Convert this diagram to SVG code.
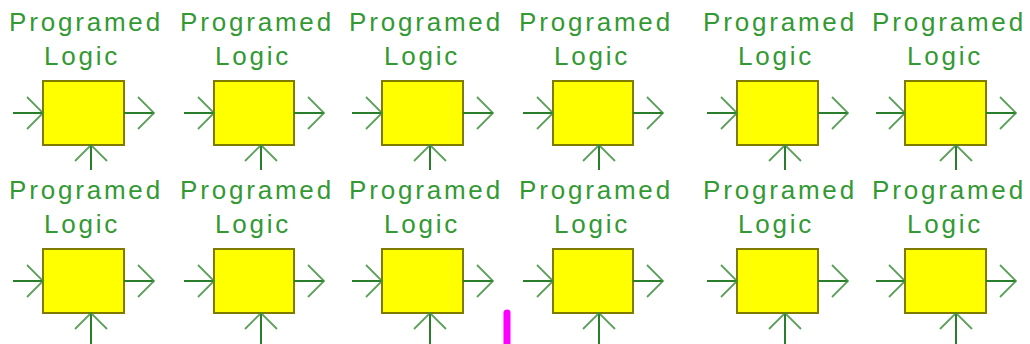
<svg xmlns="http://www.w3.org/2000/svg" width="1030" height="344" viewBox="0 0 1030 344">
<style>
.box{fill:#ffff00;stroke:#7f7a00;stroke-width:2}
.lbl{font-family:"Liberation Sans",Arial,sans-serif;font-size:26px;fill:#339933;text-anchor:middle;letter-spacing:2.8px}
.wire{stroke:#2a7d2a;stroke-width:2;fill:none;marker-end:url(#ah)}
</style>
<defs>
<marker id="ah" markerUnits="userSpaceOnUse" viewBox="-18 -18 20 36" markerWidth="20" markerHeight="36" refX="0" refY="0" orient="auto" overflow="visible">
<path d="M-16,-16 L0,0 L-16,16" fill="none" stroke="#3f8f3f" stroke-width="1.8" opacity="0.85"/>
</marker>
</defs>
<rect width="1030" height="344" fill="#ffffff"/>
<g id="nodes">
<g id="n1"><text class="lbl" x="86" y="31">Programed</text><text class="lbl" x="82" y="65">Logic</text><rect class="box" x="43" y="81" width="81" height="64"/></g>
<g id="n2"><text class="lbl" x="257" y="31">Programed</text><text class="lbl" x="253" y="65">Logic</text><rect class="box" x="214" y="81" width="80" height="64"/></g>
<g id="n3"><text class="lbl" x="426" y="31">Programed</text><text class="lbl" x="422" y="65">Logic</text><rect class="box" x="382" y="81" width="81" height="64"/></g>
<g id="n4"><text class="lbl" x="596" y="31">Programed</text><text class="lbl" x="592" y="65">Logic</text><rect class="box" x="553" y="81" width="80" height="64"/></g>
<g id="n5"><text class="lbl" x="780" y="31">Programed</text><text class="lbl" x="776" y="65">Logic</text><rect class="box" x="737" y="81" width="81" height="64"/></g>
<g id="n6"><text class="lbl" x="949" y="31">Programed</text><text class="lbl" x="945" y="65">Logic</text><rect class="box" x="905" y="81" width="81" height="64"/></g>
<g id="n7"><text class="lbl" x="86" y="199">Programed</text><text class="lbl" x="82" y="233">Logic</text><rect class="box" x="43" y="249" width="81" height="64"/></g>
<g id="n8"><text class="lbl" x="257" y="199">Programed</text><text class="lbl" x="253" y="233">Logic</text><rect class="box" x="214" y="249" width="80" height="64"/></g>
<g id="n9"><text class="lbl" x="426" y="199">Programed</text><text class="lbl" x="422" y="233">Logic</text><rect class="box" x="382" y="249" width="81" height="64"/></g>
<g id="n10"><text class="lbl" x="596" y="199">Programed</text><text class="lbl" x="592" y="233">Logic</text><rect class="box" x="553" y="249" width="80" height="64"/></g>
<g id="n11"><text class="lbl" x="780" y="199">Programed</text><text class="lbl" x="776" y="233">Logic</text><rect class="box" x="737" y="249" width="81" height="64"/></g>
<g id="n12"><text class="lbl" x="949" y="199">Programed</text><text class="lbl" x="945" y="233">Logic</text><rect class="box" x="905" y="249" width="81" height="64"/></g>
</g>
<g id="connectors">
<path class="wire" d="M13,113 H43"/><path class="wire" d="M124,113 H154"/><path class="wire" d="M91,170 V145"/>
<path class="wire" d="M184,113 H214"/><path class="wire" d="M294,113 H324"/><path class="wire" d="M261,170 V145"/>
<path class="wire" d="M352,113 H382"/><path class="wire" d="M463,113 H493"/><path class="wire" d="M430,170 V145"/>
<path class="wire" d="M523,113 H553"/><path class="wire" d="M633,113 H663"/><path class="wire" d="M599,170 V145"/>
<path class="wire" d="M707,113 H737"/><path class="wire" d="M818,113 H848"/><path class="wire" d="M785,170 V145"/>
<path class="wire" d="M876,113 H905"/><path class="wire" d="M986,113 H1016"/><path class="wire" d="M956,170 V145"/>
<path class="wire" d="M13,281 H43"/><path class="wire" d="M124,281 H154"/><path class="wire" d="M91,344 V313"/>
<path class="wire" d="M184,281 H214"/><path class="wire" d="M294,281 H324"/><path class="wire" d="M261,344 V313"/>
<path class="wire" d="M352,281 H382"/><path class="wire" d="M463,281 H493"/><path class="wire" d="M430,344 V313"/>
<path class="wire" d="M523,281 H553"/><path class="wire" d="M633,281 H663"/><path class="wire" d="M599,344 V313"/>
<path class="wire" d="M707,281 H737"/><path class="wire" d="M818,281 H848"/><path class="wire" d="M785,344 V313"/>
<path class="wire" d="M876,281 H905"/><path class="wire" d="M986,281 H1016"/><path class="wire" d="M956,344 V313"/>
</g>
<line x1="507" y1="313" x2="507" y2="350" stroke="#ff00ff" stroke-width="7" stroke-linecap="round"/>
</svg>
